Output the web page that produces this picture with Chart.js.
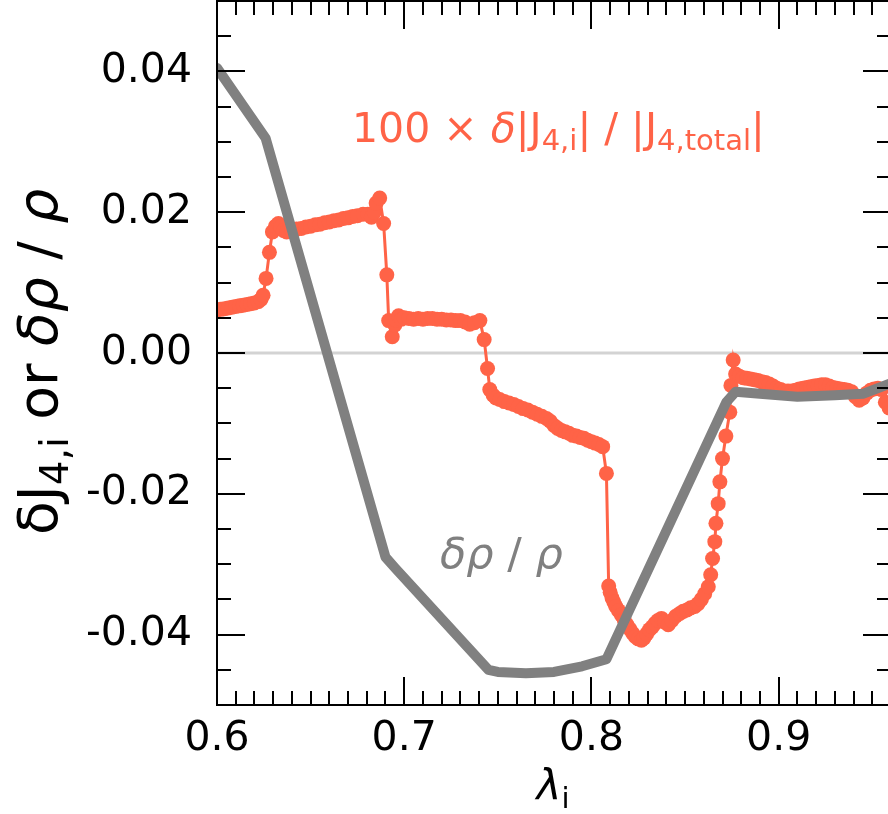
<!DOCTYPE html>
<html>
<head>
<meta charset="utf-8">
<script src="https://cdn.jsdelivr.net/npm/chart.js@4.4.1/dist/chart.umd.min.js"></script>
<style>
html,body{margin:0;padding:0;background:#fff;overflow:hidden;width:888px;height:814px;}
#wrap{position:absolute;left:0;top:0;width:892px;height:814px;}
</style>
</head>
<body>
<div id="wrap"><canvas id="c" width="892" height="814"></canvas></div>
<script>
// ---- tick labels ----
const xTickVals = [0.6, 0.7, 0.8, 0.9];
const xTickLabels = ['0.6', '0.7', '0.8', '0.9'];
const yTickVals = [-0.04, -0.02, 0.0, 0.02, 0.04];
const yTickLabels = ['-0.04', '-0.02', '0.00', '0.02', '0.04'];

// ---- series: delta rho / rho (gray) ----
const rhoX = [0.600, 0.626, 0.690, 0.695, 0.745, 0.750, 0.765, 0.780, 0.795, 0.808, 0.872, 0.877, 0.890, 0.910, 0.930, 0.945, 0.960];
const rhoY = [0.0405, 0.0305, -0.0290, -0.0305, -0.0450, -0.0453, -0.0455, -0.0453, -0.0445, -0.0435, -0.0070, -0.0055, -0.0058, -0.0062, -0.0060, -0.0058, -0.0043];

// ---- series: 100 x delta|J4,i| / |J4,total| (tomato) ----
const jX = [
0.600,0.602,0.604,0.606,0.608,0.610,0.612,0.614,0.616,0.618,0.620,0.622,0.6235,
0.6246,0.6262,0.628,0.6296,0.6312,0.6328,0.634,0.6355,
0.6372,0.640,0.6425,0.645,0.6475,0.650,0.6525,0.655,0.6575,0.660,0.6625,0.665,0.6675,0.670,0.6725,0.675,0.678,0.6805,0.6825,0.684,0.685,0.6869,
0.689,0.6907,0.6917,0.6936,0.695,0.6957,0.697,0.6985,0.700,
0.7025,0.705,0.7075,0.710,0.7125,0.715,0.7175,0.720,0.7225,0.725,0.7275,0.730,0.7325,0.735,0.7375,0.7404,
0.7427,0.7445,0.7457,0.7475,0.749,0.751,0.7535,0.756,0.7585,0.761,0.7635,0.766,0.7685,0.771,0.7735,0.776,0.778,0.780,0.782,0.784,0.786,0.788,0.790,0.792,0.794,0.796,0.798,0.800,0.802,0.804,0.806,
0.808,0.8092,0.810,0.811,0.812,0.813,0.8145,0.816,0.8175,0.819,0.8205,0.822,0.8235,0.825,0.8267,0.828,0.8295,0.831,0.8325,0.834,0.8355,0.8374,0.839,0.841,0.843,0.845,0.8472,0.849,0.851,0.853,0.8552,0.857,0.8587,0.8605,
0.8624,0.8637,0.8647,0.8659,0.8665,0.8677,0.8686,0.870,0.8718,0.8739,0.8745,0.8757,
0.877,0.879,0.881,0.883,0.885,0.887,0.889,0.891,0.893,0.895,0.897,0.899,0.901,0.903,0.905,0.907,0.909,0.911,0.913,0.915,0.917,0.919,0.921,0.923,0.925,0.927,0.929,0.931,0.933,0.935,0.937,0.939,0.941,0.943,0.945,0.947,0.949,0.951,0.953,0.955,0.957,0.959
];
const jY = [
0.0061,0.0062,0.0063,0.0064,0.0065,0.0066,0.0067,0.0068,0.0069,0.0070,0.0071,0.0073,0.0076,
0.0082,0.0106,0.0143,0.0172,0.0180,0.0184,0.0179,0.0174,
0.0172,0.0174,0.0176,0.0177,0.0179,0.0180,0.0182,0.0183,0.0185,0.0186,0.0188,0.0189,0.0191,0.0192,0.0194,0.0195,0.0197,0.0197,0.0193,0.0200,0.0213,0.0220,
0.0184,0.0111,0.0046,0.0023,0.0040,0.0047,0.0053,0.0048,0.0050,
0.0049,0.0048,0.0049,0.0048,0.0049,0.0049,0.0048,0.0048,0.0047,0.0047,0.0046,0.0046,0.0044,0.0041,0.0043,0.0046,
0.0019,-0.0022,-0.0052,-0.0060,-0.0064,-0.0066,-0.0069,-0.0071,-0.0073,-0.0076,-0.0079,-0.0081,-0.0084,-0.0087,-0.0090,-0.0093,-0.0097,-0.0103,-0.0107,-0.0110,-0.0112,-0.0114,-0.0117,-0.0118,-0.0120,-0.0121,-0.0124,-0.0126,-0.0128,-0.0130,-0.0133,
-0.0171,-0.0331,-0.0340,-0.0348,-0.0354,-0.0360,-0.0366,-0.0372,-0.0379,-0.0386,-0.0392,-0.0398,-0.0403,-0.0406,-0.0408,-0.0405,-0.0399,-0.0393,-0.0389,-0.0384,-0.0380,-0.0377,-0.0382,-0.0386,-0.0380,-0.0374,-0.0370,-0.0367,-0.0365,-0.0362,-0.0360,-0.0356,-0.0350,-0.0342,
-0.0332,-0.0315,-0.0292,-0.0268,-0.0242,-0.0214,-0.0183,-0.0150,-0.0118,-0.0084,-0.0046,-0.0010,
-0.0030,-0.0033,-0.0035,-0.0036,-0.0037,-0.0038,-0.0039,-0.0041,-0.0042,-0.0044,-0.0047,-0.0050,-0.0052,-0.0054,-0.0054,-0.0054,-0.0053,-0.0051,-0.0050,-0.0049,-0.0048,-0.0047,-0.0046,-0.0045,-0.0045,-0.0047,-0.0049,-0.0050,-0.0051,-0.0052,-0.0053,-0.0055,-0.0062,-0.0067,-0.0064,-0.0057,-0.0053,-0.0051,-0.0050,-0.0052,-0.0070,-0.0078
];

const FONT = 'DejaVu Sans';
const TOMATO = '#ff6347';
const GRAY = '#808080';

function pts(xs, ys) { return xs.map((x, i) => ({x: x, y: ys[i]})); }

// rich text: segments {t, it, sub}
function drawRich(ctx, segs, x, y, size, color, align) {
  ctx.save();
  ctx.fillStyle = color;
  ctx.textBaseline = 'alphabetic';
  ctx.textAlign = 'left';
  const fontFor = s => (s.it ? 'italic ' : '') + Math.round(s.sub ? size * 0.7 : size) + 'px "' + FONT + '"';
  let w = 0;
  segs.forEach(s => { ctx.font = fontFor(s); w += ctx.measureText(s.t).width; });
  let cx = align === 'center' ? x - w / 2 : x;
  segs.forEach(s => {
    ctx.font = fontFor(s);
    ctx.fillText(s.t, cx, y + (s.sub ? size * 0.2 : 0));
    cx += ctx.measureText(s.t).width;
  });
  ctx.restore();
}

const zeroLine = {
  id: 'zeroLine',
  beforeDatasetsDraw(chart) {
    const {ctx, chartArea, scales} = chart;
    const y = scales.y.getPixelForValue(0);
    ctx.save();
    ctx.strokeStyle = '#d3d3d3';
    ctx.lineWidth = 3;
    ctx.beginPath();
    ctx.moveTo(chartArea.left, y);
    ctx.lineTo(chartArea.right, y);
    ctx.stroke();
    ctx.restore();
  }
};

const frame = {
  id: 'frame',
  afterDraw(chart) {
    const {ctx, chartArea: a, scales} = chart;
    const xs = scales.x, ys = scales.y;
    ctx.save();
    ctx.strokeStyle = '#000';
    ctx.lineWidth = 2;
    ctx.beginPath();
    ctx.rect(a.left, a.top, a.right - a.left, a.bottom - a.top);
    ctx.stroke();
    ctx.beginPath();
    for (let k = 60; k <= 96; k++) {
      const v = k / 100;
      const px = Math.round(xs.getPixelForValue(v));
      const L = (k % 10 === 0) ? 28 : 14;
      ctx.moveTo(px, a.bottom); ctx.lineTo(px, a.bottom - L);
      ctx.moveTo(px, a.top); ctx.lineTo(px, a.top + L);
    }
    for (let k = -10; k <= 10; k++) {
      const v = k * 0.005;
      const py = Math.round(ys.getPixelForValue(v));
      const L = (k % 4 === 0) ? 28 : 14;
      ctx.moveTo(a.left, py); ctx.lineTo(a.left + L, py);
      ctx.moveTo(a.right, py); ctx.lineTo(a.right - L, py);
    }
    ctx.stroke();
    ctx.restore();

    // annotations
    drawRich(ctx, [
      {t: '100 \u00d7 '}, {t: '\u03b4', it: true}, {t: '|J'}, {t: '4,i', sub: true},
      {t: '| / |J'}, {t: '4,total', sub: true}, {t: '|'}
    ], 352, 142, 41, TOMATO, 'left');
    drawRich(ctx, [{t: '\u03b4\u03c1', it: true}, {t: ' / '}, {t: '\u03c1', it: true}], 440, 568, 43, GRAY, 'left');

    // axis titles
    drawRich(ctx, [{t: '\u03bb', it: true}, {t: 'i', sub: true}], 553, 800, 42, '#000', 'center');
    ctx.save();
    ctx.translate(57, 362);
    ctx.rotate(-Math.PI / 2);
    drawRich(ctx, [
      {t: '\u03b4J'}, {t: '4,i', sub: true}, {t: ' or '}, {t: '\u03b4\u03c1', it: true}, {t: ' / '}, {t: '\u03c1', it: true}
    ], 0, 0, 55, '#000', 'center');
    ctx.restore();
  }
};

new Chart(document.getElementById('c'), {
  type: 'scatter',
  data: {
    datasets: [
      {
        label: 'drho/rho',
        data: pts(rhoX, rhoY),
        showLine: true,
        borderColor: GRAY,
        borderWidth: 10,
        pointRadius: 0,
        borderJoinStyle: 'round',
        borderCapStyle: 'round',
        tension: 0
      },
      {
        label: 'dJ4',
        data: pts(jX, jY),
        showLine: true,
        borderColor: TOMATO,
        backgroundColor: TOMATO,
        borderWidth: 3,
        pointRadius: 7.5,
        pointBorderWidth: 0,
        pointBackgroundColor: TOMATO,
        tension: 0
      }
    ]
  },
  options: {
    responsive: false,
    animation: false,
    devicePixelRatio: 1,
    layout: {autoPadding: false, padding: {left: 0, right: 1, top: 1, bottom: 0}},
    plugins: {legend: {display: false}, tooltip: {enabled: false}},
    scales: {
      x: {
        type: 'linear', min: 0.6, max: 0.96,
        grid: {display: false, drawTicks: false},
        border: {display: false},
        afterBuildTicks: s => { s.ticks = xTickVals.map(v => ({value: v})); },
        afterFit: s => { s.height = 109; s.paddingLeft = 0; s.paddingRight = 0; },
        ticks: {
          autoSkip: false, maxRotation: 0, padding: 10, color: '#000',
          font: {family: FONT, size: 41},
          callback: (v, i) => xTickLabels[i]
        }
      },
      y: {
        type: 'linear', min: -0.05, max: 0.05,
        grid: {display: false, drawTicks: false},
        border: {display: false},
        afterBuildTicks: s => { s.ticks = yTickVals.map(v => ({value: v})); },
        afterFit: s => { s.width = 217; s.paddingTop = 0; s.paddingBottom = 0; },
        ticks: {
          autoSkip: false, padding: 25, color: '#000',
          font: {family: FONT, size: 41},
          callback: (v, i) => yTickLabels[i]
        }
      }
    }
  },
  plugins: [zeroLine, frame]
});
</script>
</body>
</html>
